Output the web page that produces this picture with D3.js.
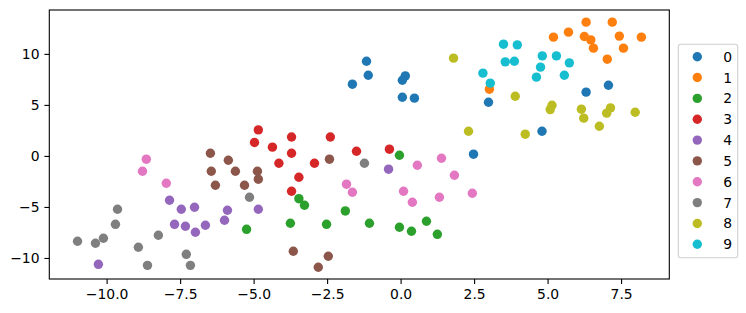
<!DOCTYPE html>
<html>
<head>
<meta charset="utf-8">
<script src="https://cdn.jsdelivr.net/npm/d3@7"></script>
<style>
  html, body { margin: 0; padding: 0; background: #fff; }
</style>
</head>
<body>
<div class="chart"></div>
<script>
// Paramètres de la figure
const width = 746;
const height = 313;
const plot = { left: 49.3, right: 669.3, top: 10, bottom: 279 };

const classes = ["0", "1", "2", "3", "4", "5", "6", "7", "8", "9"];
const colors = ["#1f77b4", "#ff7f0e", "#2ca02c", "#d62728", "#9467bd",
                "#8c564b", "#e377c2", "#7f7f7f", "#bcbd22", "#17becf"];

const xTicks = [-10, -7.5, -5, -2.5, 0, 2.5, 5, 7.5];
const yTicks = [-10, -5, 0, 5, 10];

// points, [x, y] par classe
const pts0 = [[-1.16, 9.28], [-1.10, 7.91], [-1.64, 7.03], [0.16, 7.84], [0.06, 7.42], [0.06, 5.75],
              [0.47, 5.66], [2.99, 5.26], [2.48, 0.17], [6.31, 6.25], [7.07, 6.93], [4.81, 2.42]];
const pts1 = [[6.31, 13.11], [7.20, 13.11], [5.20, 11.64], [5.71, 12.13], [6.25, 11.70], [6.47, 11.37],
              [6.56, 10.56], [7.44, 11.74], [8.19, 11.64], [7.58, 10.56], [7.03, 9.48], [3.02, 6.54]];
const pts2 = [[-0.04, 0.07], [-3.46, -4.19], [-3.27, -4.83], [-1.88, -5.39], [-3.75, -6.60], [-2.52, -6.70],
              [-1.06, -6.60], [-0.04, -6.99], [0.37, -7.38], [0.88, -6.40], [1.25, -7.68], [-5.24, -7.19]];
const pts3 = [[-4.84, 2.55], [-4.97, 1.32], [-4.36, 0.86], [-4.14, -0.72], [-3.71, 1.86], [-3.71, 0.26],
              [-2.39, 1.86], [-1.50, 0.46], [-0.38, 0.66], [-2.93, -0.72], [-3.46, -2.09], [-3.71, -3.46]];
const pts4 = [[-7.86, -4.34], [-7.46, -5.23], [-7.01, -5.03], [-7.69, -6.70], [-7.32, -6.89], [-6.98, -7.48],
              [-6.64, -6.79], [-5.99, -6.30], [-5.89, -5.32], [-4.84, -5.23], [-10.28, -10.62], [-0.41, -1.30]];
const pts5 = [[-6.47, 0.26], [-5.86, -0.42], [-6.44, -1.50], [-5.62, -1.50], [-4.87, -1.50], [-4.84, -2.28],
              [-6.30, -2.87], [-5.31, -2.87], [-2.42, -0.32], [-3.65, -9.34], [-2.46, -9.83], [-2.80, -10.91]];
const pts6 = [[0.57, -0.91], [1.39, -0.23], [1.83, -1.89], [-1.84, -2.77], [-1.64, -3.56], [0.10, -3.46],
              [0.40, -4.54], [1.32, -4.05], [2.44, -3.66], [-8.65, -0.32], [-8.78, -1.50], [-7.97, -2.68]];
const pts7 = [[-5.14, -4.05], [-9.63, -5.23], [-9.70, -6.70], [-10.99, -8.36], [-10.38, -8.56], [-10.11, -8.07],
              [-8.24, -7.77], [-8.92, -8.95], [-8.61, -10.72], [-7.29, -9.64], [-7.15, -10.72], [-1.23, -0.72]];
const pts8 = [[3.90, 5.85], [5.15, 4.97], [5.09, 4.54], [6.15, 4.58], [6.23, 3.70], [7.14, 4.71],
              [7.01, 4.19], [7.98, 4.28], [6.76, 2.91], [4.24, 2.13], [1.80, 9.58], [2.31, 2.42]];
const pts9 = [[3.50, 10.95], [3.97, 10.88], [3.56, 9.22], [3.87, 9.28], [4.82, 9.80], [5.30, 9.80],
              [4.76, 8.70], [5.74, 9.12], [4.62, 7.72], [5.57, 7.91], [2.80, 8.11], [3.05, 7.13]];

const series = [pts0, pts1, pts2, pts3, pts4, pts5, pts6, pts7, pts8, pts9];

const font = "DejaVu Sans, sans-serif";
const fontSize = 13.9;
const radius = 4.7;

const svg = d3.select('.chart')
  .append('svg')
  .attr('width', width)
  .attr('height', height)
  .style('font-family', font);

const x = d3.scaleLinear()
  .domain([-11.95, 9.14])
  .range([plot.left, plot.right]);

const y = d3.scaleLinear()
  .domain([-12.06, 14.3])
  .range([plot.bottom, plot.top]);

const color = d3.scaleOrdinal().domain(classes).range(colors);

// points, classe par classe (la dernière dessinée au-dessus)
series.forEach((pts, i) => {
  svg.append('g')
    .selectAll('circle')
    .data(pts)
    .join('circle')
      .attr('cx', d => x(d[0]))
      .attr('cy', d => y(d[1]))
      .attr('r', radius)
      .attr('fill', color(classes[i]));
});

// axes
const xAxis = svg.append('g')
  .attr('transform', `translate(0, ${plot.bottom})`)
  .call(d3.axisBottom(x).tickValues(xTicks).tickFormat(d3.format('.1f')).tickSize(4.9).tickPadding(4.9));

const yAxis = svg.append('g')
  .attr('transform', `translate(${plot.left}, 0)`)
  .call(d3.axisLeft(y).tickValues(yTicks).tickFormat(d3.format('d')).tickSize(4.9).tickPadding(4.9));

[xAxis, yAxis].forEach(g => {
  g.select('.domain').remove();
  g.selectAll('.tick line').attr('stroke', '#000').attr('stroke-width', 1.1);
  g.selectAll('.tick text')
    .attr('fill', '#000')
    .style('font-family', font)
    .style('font-size', fontSize + 'px');
});

// cadre
svg.append('rect')
  .attr('x', plot.left)
  .attr('y', plot.top)
  .attr('width', plot.right - plot.left)
  .attr('height', plot.bottom - plot.top)
  .attr('fill', 'none')
  .attr('stroke', '#000')
  .attr('stroke-width', 1.1);

// légende
const legend = svg.append('g');
legend.append('rect')
  .attr('x', 678.3)
  .attr('y', 44.3)
  .attr('width', 59.4)
  .attr('height', 213.4)
  .attr('rx', 2.5)
  .attr('fill', '#fff')
  .attr('fill-opacity', 0.8)
  .attr('stroke', '#d0d0d0')
  .attr('stroke-width', 1.1);

const legendY = d3.scalePoint().domain(classes).range([56.7, 244.3]);

const items = legend.selectAll('g.item')
  .data(classes)
  .join('g')
    .attr('class', 'item')
    .attr('transform', d => `translate(0, ${legendY(d)})`);

items.append('circle')
  .attr('cx', 697.3)
  .attr('cy', 0)
  .attr('r', radius)
  .attr('fill', d => color(d));

items.append('text')
  .attr('x', 723.3)
  .attr('dy', '0.36em')
  .style('font-size', fontSize + 'px')
  .text(d => d);
</script>
</body>
</html>
